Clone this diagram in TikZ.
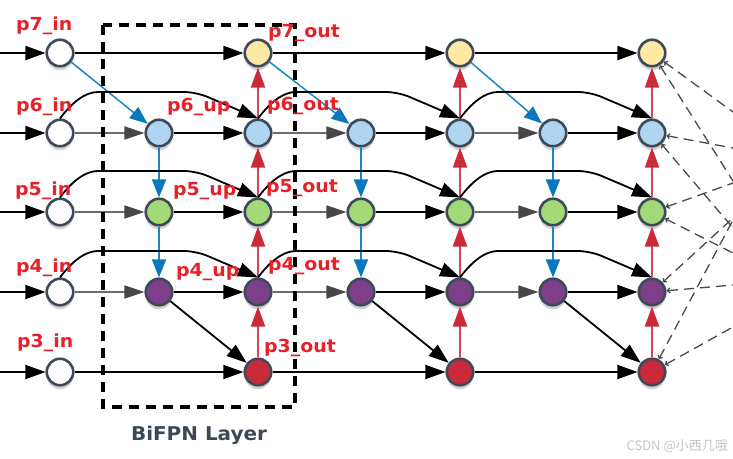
\documentclass[tikz,border=0pt]{standalone}
\usepackage{fontspec}
\usetikzlibrary{arrows.meta,calc,shadows}
\newfontfamily\labfont[FakeStretch=1.05]{DejaVu Sans}
\newfontfamily\cjkfont{Noto Sans CJK SC}
\definecolor{ndline}{HTML}{3E4A59}
\definecolor{cyel}{HTML}{FDE8A4}
\definecolor{cblu}{HTML}{AED4EF}
\definecolor{cgrn}{HTML}{A3D977}
\definecolor{cpur}{HTML}{7E3F8A}
\definecolor{cred}{HTML}{CB2A3A}
\definecolor{redline}{HTML}{D64553}
\definecolor{bluline}{HTML}{1A86C8}
\definecolor{bluhead}{HTML}{0B78BD}
\definecolor{grayline}{HTML}{6B6B6B}
\definecolor{grayhead}{HTML}{474747}
\definecolor{labred}{HTML}{E8202A}
\definecolor{boxtext}{HTML}{3B4856}
\definecolor{fancol}{HTML}{4A4A4A}
\definecolor{wmark}{HTML}{C4C4C4}
\begin{document}
\begin{tikzpicture}[x=1pt,y=-1pt,
  nd/.style={circle,draw=ndline,line width=2.6pt,minimum size=26.5pt,inner sep=0pt,
    drop shadow={shadow xshift=0pt,shadow yshift=-4pt,opacity=0.18,fill=black}},
  blk/.style={draw=black,line width=1.8pt,-{Triangle[length=20pt,width=14pt,color=black]}},
  gry/.style={draw=grayline,line width=1.8pt,-{Triangle[length=20pt,width=13pt,color=grayhead]}},
  redarr/.style={draw=redline,line width=2.2pt,-{Triangle[length=20pt,width=14pt,color=cred]}},
  bluarr/.style={draw=bluline,line width=1.5pt,-{Triangle[length=18pt,width=14pt,color=bluhead]}},
  fan/.style={draw=fancol,line width=1.3pt,dash pattern=on 10pt off 6pt,{Straight Barb[length=2.5pt,width=5pt]}-},
  lab/.style={font=\labfont\bfseries\fontsize{18}{20}\selectfont,text=labred,inner sep=0pt,anchor=base west},
]
\useasboundingbox (0,0) rectangle (733,458);
% input nodes
\foreach \r/\y in {7/53,6/133,5/212,4/292,3/372}{
  \node[nd,fill=white] (o\r0) at (60,\y) {};
  \coordinate (s\r) at (0,\y);
}
% layers
\foreach \L/\ux/\ox in {1/159/258,2/361/460,3/553/652}{
  \node[nd,fill=cblu] (u6\L) at (\ux,133) {};
  \node[nd,fill=cgrn] (u5\L) at (\ux,212) {};
  \node[nd,fill=cpur] (u4\L) at (\ux,292) {};
  \node[nd,fill=cyel] (o7\L) at (\ox,53) {};
  \node[nd,fill=cblu] (o6\L) at (\ox,133) {};
  \node[nd,fill=cgrn] (o5\L) at (\ox,212) {};
  \node[nd,fill=cpur] (o4\L) at (\ox,292) {};
  \node[nd,fill=cred] (o3\L) at (\ox,372) {};
}
% incoming arrows
\foreach \r in {7,6,5,4,3}{
  \draw[blk] (s\r) -- (o\r0);
}
% edges of each layer
\foreach \L/\P in {1/0,2/1,3/2}{
  \draw[blk] (o7\P) -- (o7\L);
  \draw[blk] (o3\P) -- (o3\L);
  \draw[bluarr] (o7\P) -- (u6\L);
  \draw[bluarr] (u6\L) -- (u5\L);
  \draw[bluarr] (u5\L) -- (u4\L);
  \foreach \r in {6,5,4}{
    \draw[gry] (o\r\P) -- (u\r\L);
    \draw[blk] (u\r\L) -- (o\r\L);
    \draw[blk,rounded corners=12pt] (o\r\P.north) .. controls +(12,-16) and +(-25,0) .. ($(o\r\P)+(50,-41)$)
       -- ($(o\r\L)+(-62,-41)$) -- (o\r\L.north);
  }
  \draw[blk] (u4\L) -- (o3\L);
  \draw[redarr] (o3\L) -- (o4\L);
  \draw[redarr] (o4\L) -- (o5\L);
  \draw[redarr] (o5\L) -- (o6\L);
  \draw[redarr] (o6\L) -- (o7\L);
}
% fan-out dashed lines
\coordinate (e71) at (733,112);
\coordinate (e72) at (733,181);
\coordinate (e61) at (733,148);
\coordinate (e62) at (733,228);
\coordinate (e51) at (733,183);
\coordinate (e52) at (733,253);
\coordinate (e41) at (733,285);
\coordinate (e42) at (733,218);
\coordinate (e31) at (733,327);
\coordinate (e32) at (733,220);
\foreach \r in {7,6,5,4,3}{
  \draw[fan] (o\r3) -- (e\r1);
  \draw[fan] (o\r3) -- (e\r2);
}
% BiFPN layer box
\draw[line width=3.2pt,dash pattern=on 10pt off 7pt] (103,25) rectangle (295,407);
\node[font=\labfont\bfseries\fontsize{19}{21}\selectfont,text=boxtext,anchor=base] (title) at (199,440) {BiFPN Layer};
% labels
\node[lab] (l7i) at (16,30) {p7\_in};
\node[lab] (l6i) at (16,111) {p6\_in};
\node[lab] (l5i) at (15,195) {p5\_in};
\node[lab] (l4i) at (16,272) {p4\_in};
\node[lab] (l3i) at (17,347) {p3\_in};
\node[lab] (l6u) at (167,111) {p6\_up};
\node[lab] (l5u) at (173,195) {p5\_up};
\node[lab] (l4u) at (176,276) {p4\_up};
\node[lab] (l7o) at (268,37) {p7\_out};
\node[lab] (l6o) at (267,110) {p6\_out};
\node[lab] (l5o) at (266,192) {p5\_out};
\node[lab] (l4o) at (268,270) {p4\_out};
\node[lab] (l3o) at (264,352) {p3\_out};
% watermark
\node[font=\cjkfont\fontsize{13}{14}\selectfont,text=wmark,anchor=base east,inner sep=0pt] (wm) at (728,450) {CSDN @小西几哦};
\end{tikzpicture}
\end{document}
